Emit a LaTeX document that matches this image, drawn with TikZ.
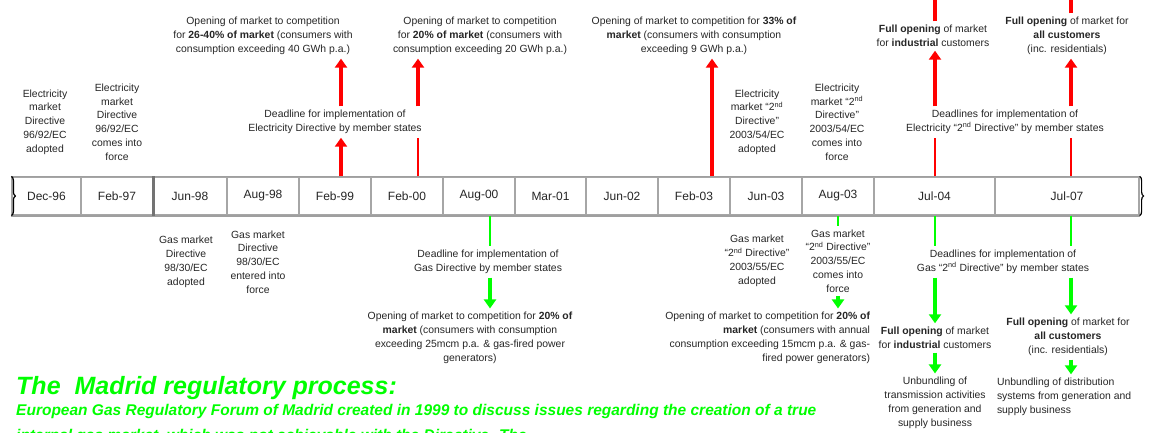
\documentclass[tikz,border=0pt]{standalone}
\usepackage{fontspec}
\setmainfont{Liberation Sans}
\usetikzlibrary{arrows.meta, calc, decorations.pathreplacing}
\definecolor{mred}{RGB}{255,0,0}
\definecolor{mgreen}{RGB}{0,255,0}
\tikzset{txt/.style = {align=center, inner sep=1pt, outer sep=3pt, text=black!85, font=\fontsize{10.4}{13.8}\selectfont}}
\tikzset{cell/.style = {draw=gray!70, line width=1.2pt, minimum height=38pt, inner sep=0pt, text=black!85, font=\fontsize{12}{14}\selectfont}}
\tikzset{bigarr/.style = {line width=3.6pt, -{Triangle[width=12pt,length=9pt]}}}
\tikzset{feed/.style = {line width=1.6pt}}
\tikzset{banner/.style = {anchor=base west, inner sep=0pt, text=mgreen}}

\begin{document}
\begin{tikzpicture}[x=1pt, y=-1pt]
\clip (0,0) rectangle (1150,433);
\fill[white] (0,0) rectangle (1150,433);
\foreach \a/\b/\d [count=\i] in {12/81/Dec-96, 81/153/Feb-97, 153/227/Jun-98, 227/299/Aug-98, 299/371/Feb-99, 371/443/Feb-00, 443/515/Aug-00, 515/586/Mar-01, 586/658/Jun-02, 658/730/Feb-03, 730/802/Jun-03, 802/874/Aug-03, 874/995/Jul-04, 995/1139/Jul-07}
  \node[cell, minimum width={(\b-\a)*1pt}] (c\i) at ({(\a+\b)/2},196) {\d};
\draw[gray!75, line width=1.8pt] (c1.north west) -- (c14.north east);
\draw[gray!75, line width=1.8pt] (c1.south west) -- (c14.south east);
\draw[gray!90!black, line width=2.4pt] (c2.north east) -- (c2.south east);
\draw[line width=1.2pt, decorate, decoration={brace, amplitude=4pt}] (c1.north west) -- (c1.south west);
\draw[line width=1.2pt, decorate, decoration={brace, amplitude=4pt}] (c14.north east) -- (c14.south east);
\coordinate (xa) at (341,0);
\coordinate (xb) at (418,0);
\coordinate (xc) at (712,0);
\coordinate (xd) at (935,0);
\coordinate (xe) at (490,0);
\coordinate (xf) at (838,0);
\coordinate (xg) at (1071,0);
\coordinate (edge) at (0,-12);

\node[txt] (elA) at (45,122) {Electricity\\market\\Directive\\96/92/EC\\adopted};
\node[txt] (elB) at (117,122) {Electricity\\market\\Directive\\96/92/EC\\comes into\\force};
\node[txt] (op1) at (263,36) {Opening of market to competition\\for \textbf{26-40\% of market} (consumers with\\consumption exceeding 40 GWh p.a.)};
\node[txt] (dl1) at (335,122) {Deadline for implementation of\\Electricity Directive by member states};
\node[txt] (op2) at (480,36) {Opening of market to competition\\for \textbf{20\% of market} (consumers with\\consumption exceeding 20 GWh p.a.)};
\node[txt] (op3) at (694,36) {Opening of market to competition for \textbf{33\% of}\\\textbf{market} (consumers with consumption\\exceeding 9 GWh p.a.)};
\node[txt] (elC) at (757,122) {Electricity\\market ``2\textsuperscript{nd}\\Directive''\\2003/54/EC\\adopted};
\node[txt] (elD) at (837,122) {Electricity\\market ``2\textsuperscript{nd}\\Directive''\\2003/54/EC\\comes into\\force};
\node[txt] (fo1) at (933,36) {\textbf{Full opening} of market\\for \textbf{industrial} customers};
\node[txt] (fo2) at (1067,36) {\textbf{Full opening} of market for\\\textbf{all customers}\\(inc. residentials)};
\node[txt] (dl2) at (1005,122) {Deadlines for implementation of\\Electricity ``2\textsuperscript{nd} Directive'' by member states};

\node[txt] (gs1) at (186,262) {Gas market\\Directive\\98/30/EC\\adopted};
\node[txt] (gs2) at (258,262) {Gas market\\Directive\\98/30/EC\\entered into\\force};
\node[txt] (dl3) at (488,262) {Deadline for implementation of\\Gas Directive by member states};
\node[txt] (op4) at (470,338) {Opening of market to competition for \textbf{20\% of}\\\textbf{market} (consumers with consumption\\exceeding 25mcm p.a. \& gas-fired power\\generators)};
\node[txt] (gs3) at (757,261) {Gas market\\``2\textsuperscript{nd} Directive''\\2003/55/EC\\adopted};
\node[txt] (gs4) at (838,261) {Gas market\\``2\textsuperscript{nd} Directive''\\2003/55/EC\\comes into\\force};
\node[txt, align=right, anchor=east] (op5) at (874,338) {Opening of market to competition for \textbf{20\% of}\\\textbf{market} (consumers with annual\\consumption exceeding 15mcm p.a. \& gas-\\fired power generators)};
\node[txt] (dl4) at (1003,262) {Deadlines for implementation of\\Gas ``2\textsuperscript{nd} Directive'' by member states};
\node[txt] (fo3) at (935,338) {\textbf{Full opening} of market\\for \textbf{industrial} customers};
\node[txt] (ub1) at (935,403) {Unbundling of\\transmission activities\\from generation and\\supply business};
\node[txt] (fo4) at (1068,337) {\textbf{Full opening} of market for\\\textbf{all customers}\\(inc. residentials)};
\node[txt, align=left, anchor=west] (ub2) at (993,397) {Unbundling of distribution\\systems from generation and\\supply business};

\draw[mred, bigarr] (c5.north -| xa) -- (dl1.south -| xa);
\draw[mred, bigarr] (dl1.north -| xa) -- (op1.south -| xa);
\draw[mred, feed] (c6.north -| xb) -- (dl1.south -| xb);
\draw[mred, bigarr] (dl1.north -| xb) -- (op2.south -| xb);
\draw[mred, bigarr] (c10.north -| xc) -- (op3.south -| xc);
\draw[mred, feed] (c13.north -| xd) -- (dl2.south -| xd);
\draw[mred, bigarr] (dl2.north -| xd) -- (fo1.south -| xd);
\draw[mred, bigarr] (fo1.north -| xd) -- (edge -| xd);
\draw[mred, feed] (c14.north -| xg) -- (dl2.south -| xg);
\draw[mred, bigarr] (dl2.north -| xg) -- (fo2.south -| xg);
\draw[mred, bigarr] (fo2.north -| xg) -- (edge -| xg);

\draw[mgreen, feed] (c7.south -| xe) -- (dl3.north -| xe);
\draw[mgreen, bigarr] (dl3.south -| xe) -- (op4.north -| xe);
\draw[mgreen, feed] (c12.south -| xf) -- (gs4.north -| xf);
\draw[mgreen, bigarr] (gs4.south -| xf) -- (op5.north -| xf);
\draw[mgreen, feed] (c13.south -| xd) -- (dl4.north -| xd);
\draw[mgreen, bigarr] (dl4.south -| xd) -- (fo3.north -| xd);
\draw[mgreen, bigarr] (fo3.south -| xd) -- (ub1.north -| xd);
\draw[mgreen, feed] (c14.south -| xg) -- (dl4.north -| xg);
\draw[mgreen, bigarr] (dl4.south -| xg) -- (fo4.north -| xg);
\draw[mgreen, bigarr] (fo4.south -| xg) -- (ub2.north -| xg);

\node[banner, font=\fontsize{25}{25}\selectfont\bfseries\itshape] (ttl) at (16,394) {The\ \ Madrid regulatory process:};
\node[banner, font=\fontsize{15.5}{16}\selectfont\bfseries\itshape] (sub1) at (16,415) {European Gas Regulatory Forum of Madrid created in 1999 to discuss issues regarding the creation of a true};
\node[banner, font=\fontsize{15.5}{16}\selectfont\bfseries\itshape] (sub2) at (16,440) {internal gas market, which was not achievable with the Directive. The};
\end{tikzpicture}
\end{document}
